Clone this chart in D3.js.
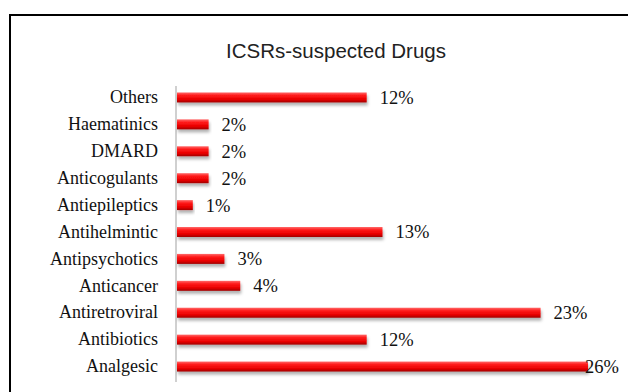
<!DOCTYPE html>
<html>
<head>
<meta charset="utf-8">
<script src="https://cdn.jsdelivr.net/npm/d3@7"></script>
<style>
  html, body { margin: 0; padding: 0; background: #fff; }
  svg { display: block; }
</style>
</head>
<body>
<svg id="chart" width="628" height="392"></svg>
<script>
// Drug classes, top to bottom as drawn
const categories = ["Others", "Haematinics", "DMARD", "Anticogulants", "Antiepileptics",
  "Antihelmintic", "Antipsychotics", "Anticancer", "Antiretroviral", "Antibiotics", "Analgesic"];
// Share of suspected-drug reports, percent
const percents = [12, 2, 2, 2, 1, 13, 3, 4, 23, 12, 26];
const valueLabels = percents.map(v => v + "%");
const title = "ICSRs-suspected Drugs";

const svg = d3.select("#chart");
const data = categories.map((c, i) => ({ cat: c, value: percents[i], label: valueLabels[i] }));

// Gradient and shadow for the raised bars
const defs = svg.append("defs");
const grad = defs.append("linearGradient").attr("id", "barGrad")
  .attr("x1", 0).attr("y1", 0).attr("x2", 0).attr("y2", 1);
grad.append("stop").attr("offset", "0%").attr("stop-color", "#ff6a6a");
grad.append("stop").attr("offset", "30%").attr("stop-color", "#ff1a1a");
grad.append("stop").attr("offset", "70%").attr("stop-color", "#e80000");
grad.append("stop").attr("offset", "100%").attr("stop-color", "#a00000");
const shadow = defs.append("filter").attr("id", "barShadow")
  .attr("x", "-5%").attr("y", "-50%").attr("width", "115%").attr("height", "250%");
shadow.append("feDropShadow").attr("dx", 1).attr("dy", 3).attr("stdDeviation", 1.6)
  .attr("flood-color", "#000").attr("flood-opacity", 0.3);

// Outer frame
svg.append("rect").attr("x", 10).attr("y", 15).attr("width", 720).attr("height", 420)
  .attr("fill", "#fff").attr("stroke", "#000").attr("stroke-width", 2);

svg.append("text").attr("x", 336).attr("y", 58).attr("text-anchor", "middle")
  .attr("font-family", "Liberation Sans, Arial, sans-serif").attr("font-size", 20.5)
  .attr("fill", "#222").text(title);

const x = d3.scaleLinear().domain([0, d3.max(percents)]).range([177, 588]);
const y = d3.scaleBand().domain(categories).range([84, 380]).paddingInner(0.64).paddingOuter(0.32);

// Category axis
const yAxis = svg.append("g").attr("transform", "translate(176,0)")
  .call(d3.axisLeft(y).tickSize(0).tickPadding(18));
yAxis.select(".domain").attr("stroke", "#d0d0d0").attr("stroke-width", 2)
  .attr("d", "M0,86V382");
yAxis.selectAll("text").attr("font-family", "Liberation Serif, Times New Roman, serif")
  .attr("font-size", 18).attr("fill", "#111");

const bars = svg.append("g");
bars.selectAll("rect").data(data).join("rect")
  .attr("x", x(0))
  .attr("y", d => y(d.cat) + y.bandwidth() / 2 - 5)
  .attr("width", d => x(d.value) - x(0))
  .attr("height", 10)
  .attr("fill", "url(#barGrad)")
  .attr("filter", "url(#barShadow)");

svg.append("g").selectAll("text").data(data).join("text")
  .attr("x", d => Math.min(x(d.value) + 13, 585))
  .attr("y", d => y(d.cat) + y.bandwidth() / 2)
  .attr("dy", "0.35em")
  .attr("font-family", "Liberation Serif, Times New Roman, serif")
  .attr("font-size", 18.5).attr("fill", "#111")
  .text(d => d.label);
</script>
</body>
</html>
